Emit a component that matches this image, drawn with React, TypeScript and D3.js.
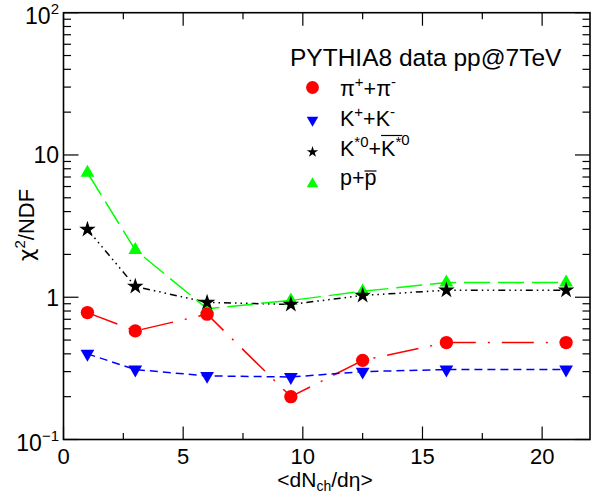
import React, { useEffect, useRef } from "react";
import * as d3 from "d3";

// ---- data ----
const multiplicity = [1, 3, 6, 9.5, 12.5, 16, 21];
const pionChi2 = [0.78, 0.58, 0.76, 0.2, 0.36, 0.48, 0.48];
const kaonChi2 = [0.40, 0.31, 0.28, 0.275, 0.30, 0.31, 0.31];
const kstarChi2 = [3.0, 1.19, 0.92, 0.89, 1.03, 1.12, 1.12];
const protonChi2 = [7.5, 2.15, 0.83, 0.95, 1.1, 1.27, 1.27];

const xMajorTicks = [0, 5, 10, 15, 20];
const xMinorTicks = [2.5, 7.5, 12.5, 17.5];
const yDecades = [0.1, 1, 10, 100];
const yDecadeLabels = [
  { base: "10", exp: "\u22121" },
  { base: "1", exp: "" },
  { base: "10", exp: "" },
  { base: "10", exp: "2" },
];

const FONT = "'Liberation Sans', Arial, Helvetica, sans-serif";
const GREEK = "'DejaVu Sans', 'Liberation Sans', sans-serif";

export default function App() {
  const ref = useRef<SVGSVGElement>(null);

  useEffect(() => {
    const svg = d3.select(ref.current);
    svg.selectAll("*").remove();

    const L = 63.5, R = 590, T = 12.7, B = 439.5;
    const x = d3.scaleLinear().domain([0, 22]).range([L, R]);
    const y = d3.scaleLog().domain([0.1, 100]).range([B, T]);

    svg.append("rect").attr("width", 603).attr("height", 494).attr("fill", "white");

    const axes = svg.append("g").attr("stroke", "black").attr("stroke-width", 1.2);
    xMajorTicks.forEach((v) => {
      axes.append("line").attr("x1", x(v)).attr("x2", x(v)).attr("y1", B).attr("y2", B - 13);
      axes.append("line").attr("x1", x(v)).attr("x2", x(v)).attr("y1", T).attr("y2", T + 13);
    });
    xMinorTicks.forEach((v) => {
      axes.append("line").attr("x1", x(v)).attr("x2", x(v)).attr("y1", B).attr("y2", B - 6.5);
      axes.append("line").attr("x1", x(v)).attr("x2", x(v)).attr("y1", T).attr("y2", T + 6.5);
    });
    yDecades.forEach((d, i) => {
      axes.append("line").attr("x1", L).attr("x2", L + 15).attr("y1", y(d)).attr("y2", y(d));
      axes.append("line").attr("x1", R).attr("x2", R - 15).attr("y1", y(d)).attr("y2", y(d));
      if (i < yDecades.length - 1) {
        for (let k = 2; k <= 9; k++) {
          const v = d * k;
          axes.append("line").attr("x1", L).attr("x2", L + 7.5).attr("y1", y(v)).attr("y2", y(v));
          axes.append("line").attr("x1", R).attr("x2", R - 7.5).attr("y1", y(v)).attr("y2", y(v));
        }
      }
    });
    svg.append("rect").attr("x", L).attr("y", T).attr("width", R - L).attr("height", B - T)
      .attr("fill", "none").attr("stroke", "black").attr("stroke-width", 1.6);

    // tick labels
    xMajorTicks.forEach((v) => {
      svg.append("text").attr("x", x(v)).attr("y", 464).attr("text-anchor", "middle")
        .attr("font-family", FONT).attr("font-size", 22).text(String(v));
    });
    yDecades.forEach((d, i) => {
      const lab = yDecadeLabels[i];
      const t = svg.append("text").attr("x", 59).attr("text-anchor", "end")
        .attr("font-family", FONT).attr("font-size", 23);
      if (lab.exp) {
        t.attr("y", y(d) + 11.5);
        t.append("tspan").text(lab.base);
        t.append("tspan").attr("font-size", 15).attr("dy", -10).text(lab.exp);
      } else {
        t.attr("y", y(d) + 8.5).text(lab.base);
      }
    });

    // axis titles
    const yt = svg.append("text").attr("transform", "translate(33.5,225) rotate(-90)")
      .attr("text-anchor", "middle").attr("font-family", FONT).attr("font-size", 22);
    yt.append("tspan").attr("font-family", GREEK).text("\u03c7");
    yt.append("tspan").attr("font-size", 15).attr("dy", -9).text("2");
    yt.append("tspan").attr("dy", 9).text("/NDF");

    const xt = svg.append("text").attr("x", 325).attr("y", 487).attr("text-anchor", "middle")
      .attr("font-family", FONT).attr("font-size", 21);
    xt.append("tspan").text("<dN");
    xt.append("tspan").attr("font-size", 14).attr("dy", 3.5).text("ch");
    xt.append("tspan").attr("dy", -3.5).text("/d\u03b7>");

    // series
    const series = [
      { vals: pionChi2, color: "#ff0000", dash: "32 12 2 12", shape: "circle" },
      { vals: kaonChi2, color: "#0000ff", dash: "8 5", shape: "down" },
      { vals: kstarChi2, color: "#000000", dash: "7 4 1.5 4 1.5 4 1.5 4", shape: "star" },
      { vals: protonChi2, color: "#00ff00", dash: "26 8", shape: "up" },
    ];
    const line = d3.line<[number, number]>().x((d) => x(d[0])).y((d) => y(d[1]));
    series.forEach((s) => {
      const pts = multiplicity.map((m, i) => [m, s.vals[i]] as [number, number]);
      svg.append("path").attr("d", line(pts)).attr("fill", "none").attr("stroke", s.color)
        .attr("stroke-width", 1.5).attr("stroke-dasharray", s.dash);
    });

    const drawMarker = (g: any, shape: string, cx: number, cy: number, color: string, small: boolean) => {
      let sym: any, size: number, rot = 0;
      if (shape === "circle") { sym = d3.symbolCircle; size = small ? 130 : 140; }
      else if (shape === "star") { sym = d3.symbolStar; size = small ? 40 : 85; }
      else { sym = d3.symbolTriangle; size = small ? 58 : 82; if (shape === "down") rot = 180; }
      g.append("path").attr("d", d3.symbol().type(sym).size(size)())
        .attr("transform", `translate(${cx},${cy}) rotate(${rot})`).attr("fill", color);
    };

    const order = [3, 0, 1, 2];
    order.forEach((si) => {
      const s = series[si];
      multiplicity.forEach((m, i) => drawMarker(svg, s.shape, x(m), y(s.vals[i]), s.color, false));
    });

    // legend
    svg.append("text").attr("x", 290).attr("y", 66).attr("font-family", FONT).attr("font-size", 24.5)
      .text("PYTHIA8 data pp@7TeV");
    const mx = 312.5;
    drawMarker(svg, "circle", mx, 87.5, "#ff0000", true);
    drawMarker(svg, "down", mx, 120, "#0000ff", true);
    drawMarker(svg, "star", mx, 152, "#000000", true);
    drawMarker(svg, "up", mx, 184, "#00ff00", true);

    const tx = 340;
    const mk = (yb: number) => svg.append("text").attr("x", tx).attr("y", yb)
      .attr("font-family", FONT).attr("font-size", 21.5);
    const sup = (t: any, s: string) => t.append("tspan").attr("font-size", 15).attr("dy", -9.5).text(s);
    const base = (t: any, s: string) => t.append("tspan").attr("dy", 9.5).text(s);

    const e1 = mk(96);
    e1.append("tspan").text("\u03c0"); sup(e1, "+"); base(e1, "+\u03c0"); sup(e1, "-");
    const e2 = mk(126);
    e2.append("tspan").text("K"); sup(e2, "+"); base(e2, "+K"); sup(e2, "-");
    const e3 = mk(156);
    e3.append("tspan").text("K"); sup(e3, "*0"); base(e3, "+K"); sup(e3, "*");
    e3.append("tspan").attr("font-size", 15).attr("dy", -2).text("0");
    const e4 = mk(185);
    e4.append("tspan").text("p+p");

    // overlines
    const n3: any = e3.node();
    const a3 = n3.getStartPositionOfChar(4).x, b3 = n3.getEndPositionOfChar(5).x;
    svg.append("line").attr("x1", a3).attr("x2", b3 + 1).attr("y1", 135.5).attr("y2", 135.5)
      .attr("stroke", "black").attr("stroke-width", 1.2);
    const n4: any = e4.node();
    const a4 = n4.getStartPositionOfChar(2).x, b4 = n4.getEndPositionOfChar(2).x;
    svg.append("line").attr("x1", a4).attr("x2", b4).attr("y1", 171).attr("y2", 171)
      .attr("stroke", "black").attr("stroke-width", 1.2);
  }, []);

  return (
    <svg ref={ref} width={603} height={494}
      style={{ position: "absolute", left: 0, top: 0, display: "block" }} />
  );
}
